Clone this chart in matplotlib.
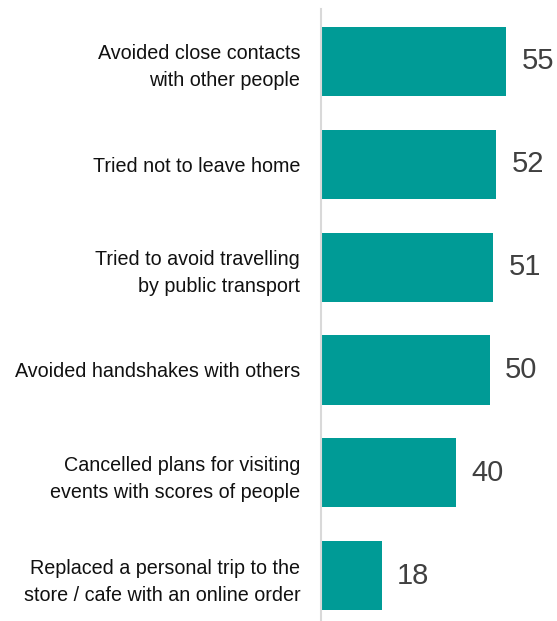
import matplotlib.pyplot as plt
import numpy as np

plt.rcParams['font.family'] = ['Liberation Sans', 'DejaVu Sans']

categories = [
    "Avoided close contacts\nwith other people",
    "Tried not to leave home",
    "Tried to avoid travelling\nby public transport",
    "Avoided handshakes with others",
    "Cancelled plans for visiting\nevents with scores of people",
    "Replaced a personal trip to the\nstore / cafe with an online order",
]
values = [55, 52, 51, 50, 40, 18]

fig = plt.figure(figsize=(5.57, 6.21), dpi=100)
ax = fig.add_axes([321 / 557, 0, 236 / 557, 612 / 621])

y = np.arange(len(values))
ax.barh(y, values, height=0.67, color='#009B96')

for yi, v in zip(y, values):
    ax.text(v + 4.6, yi, str(v), va='center', ha='left', fontsize=21, color='#404040')

ax.set_xlim(0, 70)
ax.set_ylim(len(values) - 1 + 0.437, -0.505)
ax.set_yticks(y)
ax.set_yticklabels(categories, fontsize=14.2, color='#111111', linespacing=1.55)
ax.tick_params(axis='y', length=0, pad=15)
ax.set_xticks([])

for side in ['top', 'right', 'bottom']:
    ax.spines[side].set_visible(False)
ax.spines['left'].set_color('#d9d9d9')
ax.spines['left'].set_linewidth(1.5)

fig.savefig('out.png', dpi=100)
